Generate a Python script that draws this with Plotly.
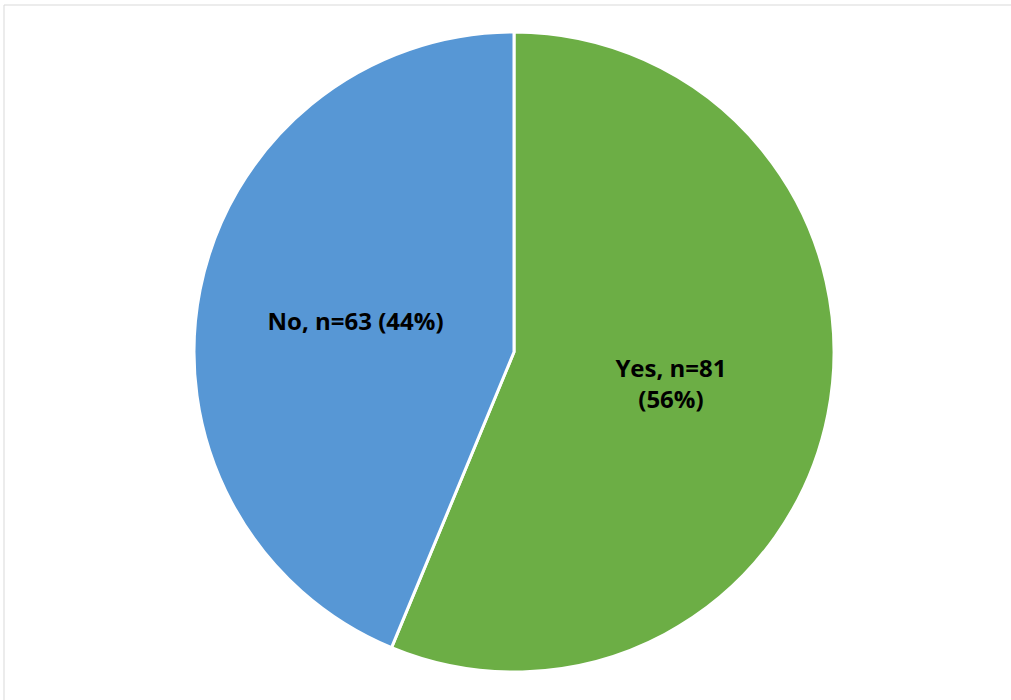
import plotly.graph_objects as go

labels = ["Yes", "No"]
values = [81, 63]
label_text = ["Yes, n=81<br>(56%)", "No, n=63 (44%)"]
colors = ["#6CAE45", "#5797D5"]

W, H = 1011, 700

fig = go.Figure(go.Pie(
    labels=labels,
    values=values,
    text=label_text,
    textinfo="text",
    textposition="inside",
    insidetextorientation="horizontal",
    sort=False,
    direction="clockwise",
    rotation=0,
    marker=dict(colors=colors, line=dict(color="white", width=3)),
    textfont=dict(family="Open Sans", size=24, color="black", weight="bold"),
    domain=dict(x=[193 / W, 835 / W], y=[(H - 672) / H, (H - 32) / H]),
    showlegend=False,
    hoverinfo="label+value+percent",
))

fig.update_layout(
    width=W,
    height=H,
    margin=dict(l=0, r=0, t=0, b=0),
    paper_bgcolor="white",
    shapes=[dict(type="rect", xref="paper", yref="paper",
                 x0=4 / W, x1=1.01, y0=-0.02, y1=(H - 5) / H,
                 line=dict(color="#D9D9D9", width=1))],
)

fig.write_html("out.html")
